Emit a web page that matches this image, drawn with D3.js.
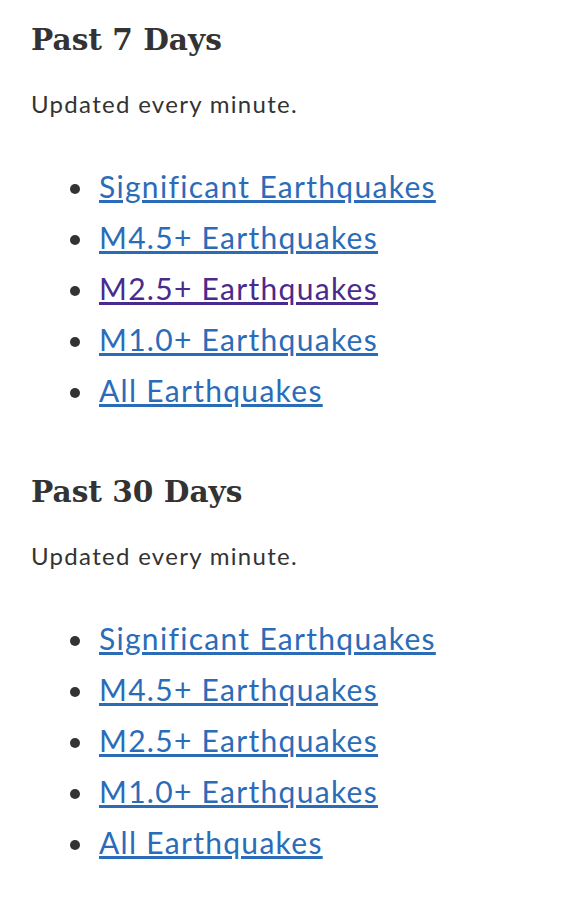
<!DOCTYPE html>
<html><head><meta charset="utf-8">
<script src="https://cdn.jsdelivr.net/npm/d3@7"></script>
<style>body{margin:0;background:#fff}</style>
</head><body>
<script>
const sectionTitles = ["Past 7 Days", "Past 30 Days"];
const sectionNotes = ["Updated every minute.", "Updated every minute."];
const linkLabels = ["Significant Earthquakes","M4.5+ Earthquakes","M2.5+ Earthquakes","M1.0+ Earthquakes","All Earthquakes"];
const visited = [[false,false,true,false,false],[false,false,false,false,false]];

const svg = d3.select("body").append("svg").attr("width",562).attr("height",920);
const secY = d3.scaleLinear().domain([0,1]).range([0,452]);
const itemY = d3.scaleLinear().domain([0,1]).range([0,51]);

sectionTitles.forEach((t,i)=>{
  const g = svg.append("g").attr("transform",`translate(0,${secY(i)})`);
  g.append("text").attr("x",31).attr("y",50).text(t)
    .attr("font-family","DejaVu Serif").attr("font-weight","bold").attr("font-size",29.6).attr("fill","#333");
  g.append("text").attr("x",31).attr("y",113).text(sectionNotes[i])
    .attr("font-family","Lato").attr("font-size",24).attr("letter-spacing",1.3).attr("fill","#333");
  linkLabels.forEach((l,j)=>{
    const y = 198 + itemY(j);
    g.append("circle").attr("cx",75).attr("cy",y-9).attr("r",5).attr("fill","#333");
    g.append("text").attr("x",99).attr("y",y).text(l)
      .attr("font-family","Lato").attr("font-size",30).attr("letter-spacing",1.3)
      .attr("text-decoration","underline")
      .attr("fill", visited[i][j] ? "#4a2a8c" : "#2b6cb8");
  });
});
</script>
</body></html>
